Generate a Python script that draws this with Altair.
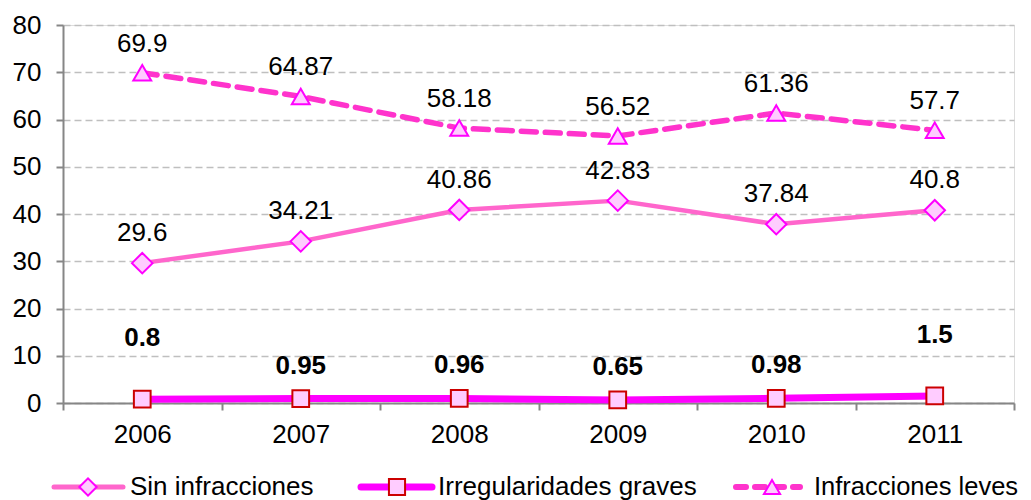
import altair as alt
import pandas as pd

years = ["2006", "2007", "2008", "2009", "2010", "2011"]
sin_infracciones = [29.6, 34.21, 40.86, 42.83, 37.84, 40.8]
irregularidades_graves = [0.8, 0.95, 0.96, 0.65, 0.98, 1.5]
infracciones_leves = [69.9, 64.87, 58.18, 56.52, 61.36, 57.7]
series_names = ["Sin infracciones", "Irregularidades graves", "Infracciones leves"]

FONT = "Liberation Sans"
FS = 26
W, H = 951, 378

df_sin = pd.DataFrame({"year": years, "value": sin_infracciones})
df_irr = pd.DataFrame({"year": years, "value": irregularidades_graves})
df_lev = pd.DataFrame({"year": years, "value": infracciones_leves})

xenc = alt.X("year:O", bandPosition=0.5,
             scale=alt.Scale(type="band", domain=years, paddingInner=0, paddingOuter=0),
             axis=alt.Axis(title=None, labelAngle=0, labelFont=FONT, labelFontSize=FS,
                           labelColor="black", domainColor="#868686", domainWidth=2,
                           tickColor="#868686", tickWidth=2, tickSize=7, tickBand="extent",
                           labelPadding=11, grid=False))
yenc = alt.Y("value:Q",
             scale=alt.Scale(domain=[0, 80], nice=False, zero=True),
             axis=alt.Axis(title=None, values=list(range(0, 81, 10)), labelFont=FONT,
                           labelFontSize=FS, labelColor="black", domainColor="#868686",
                           domainWidth=2, tickColor="#868686", tickWidth=2, tickSize=7,
                           labelPadding=15, grid=True, gridColor="#BFBFBF",
                           gridDash=[7, 4], gridWidth=1.5))

def series_layers(df, line_color, width, dash, shape, size, mstroke):
    line_kwargs = dict(color=line_color, strokeWidth=width, strokeCap="round", strokeJoin="round")
    if dash:
        line_kwargs["strokeDash"] = dash
    line = alt.Chart(df).mark_line(**line_kwargs).encode(x=xenc, y=yenc)
    pts = alt.Chart(df).mark_point(shape=shape, size=size, filled=True, fill="#FFCCFF",
                                   stroke=mstroke, strokeWidth=2, opacity=1).encode(
        x=alt.X("year:O", bandPosition=0.5), y="value:Q")
    return [line, pts]

layers = []
layers += series_layers(df_sin, "#FF66CC", 4.5, None, "diamond", 420, "#FF00FF")
layers += series_layers(df_irr, "#FF00FF", 7, None, "square", 280, "#CC0000")
layers += series_layers(df_lev, "#FF33CC", 5.5, [15, 9], "triangle-up", 320, "#FF00FF")

def labels(df, dy, bold=False):
    return alt.Chart(df).mark_text(font=FONT, fontSize=FS, dy=dy, color="black",
                                   fontWeight="bold" if bold else "normal").encode(
        x=alt.X("year:O", bandPosition=0.5), y="value:Q", text=alt.Text("value:Q"))

layers.append(labels(df_sin, -30))
layers.append(labels(df_lev, -29))
df_irr_hi = df_irr[df_irr["year"].isin(["2006", "2011"])]
df_irr_lo = df_irr[~df_irr["year"].isin(["2006", "2011"])]
layers.append(labels(df_irr_hi, -61, True))
layers.append(labels(df_irr_lo, -33, True))

# manual legend below the plot
legend_specs = [
    (series_names[0], -9, 60, 25, 67, "#FF66CC", 5, None, "diamond", 300, "#FF00FF", FS),
    (series_names[1], 298, 369, 334, 375, "#FF00FF", 7, None, "square", 260, "#CC0000", FS),
    (series_names[2], 673, 737, 709, 751, "#FF33CC", 6, [10, 9], "triangle-up", 260, "#FF00FF", 25.5),
]
ly = 462
legend_df = pd.DataFrame({"name": series_names})
for i, (name, x1, x2, xm, xt, col, w, dash, shape, size, ms, fs) in enumerate(legend_specs):
    d = legend_df.iloc[[i]]
    rk = dict(color=col, strokeWidth=w, strokeCap="round")
    if dash:
        rk["strokeDash"] = dash
    layers.append(alt.Chart(d).mark_rule(**rk).encode(
        x=alt.value(x1), x2=alt.value(x2), y=alt.value(ly)))
    layers.append(alt.Chart(d).mark_point(shape=shape, size=size, filled=True, fill="#FFCCFF",
                                          stroke=ms, strokeWidth=2, opacity=1).encode(
        x=alt.value(xm), y=alt.value(ly)))
    layers.append(alt.Chart(d).mark_text(font=FONT, fontSize=fs, align="left",
                                         baseline="middle", color="black").encode(
        x=alt.value(xt), y=alt.value(ly), text="name:N"))

chart = alt.layer(*layers).properties(
    width=W, height=H,
    autosize=alt.AutoSizeParams(type="none"),
    padding={"left": 55, "top": 17, "right": 9, "bottom": 97},
).configure_view(stroke=None).configure(background="white")

chart.save("out.html", embed_options={"renderer": "svg", "actions": False})
